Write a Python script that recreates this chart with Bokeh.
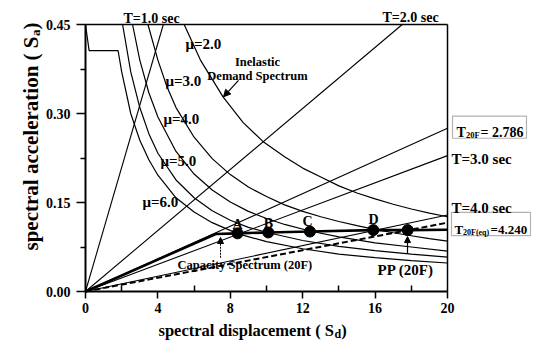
import math
from bokeh.plotting import figure
from bokeh.models import (Label, Arrow, NormalHead, Range1d, FixedTicker,
                          NumeralTickFormatter, BoxAnnotation)
from bokeh.embed import file_html
from bokeh.resources import INLINE

# ---------------- data ----------------
# radial period lines: end point where each meets the frame
period_labels = ["T=1.0 sec", "T=2.0 sec", "T_20F", "T=3.0 sec", "T=4.0 sec"]
period_end_sd = [4.3, 17.5, 20.0, 20.0, 20.0]
period_end_sa = [0.45, 0.45, 0.275, 0.229, 0.129]
teq_end_sd = 20.0
teq_end_sa = 0.116

mu2_sd = [5.45, 6.35, 7.6, 8.7, 9.8, 11, 12, 13, 14, 15, 16, 17, 18, 19, 20]
mu2_sa = [0.45, 0.39, 0.328, 0.285, 0.253, 0.227, 0.208, 0.193, 0.178, 0.166, 0.156, 0.147, 0.139, 0.132, 0.126]

mu3_sd = [3.45, 4.0, 4.5, 5, 6, 7, 8, 9, 10, 11, 12, 13, 14, 15, 15.9, 17, 18, 19, 20]
mu3_sa = [0.45, 0.39, 0.345, 0.31, 0.26, 0.224, 0.197, 0.176, 0.160, 0.146, 0.135, 0.126, 0.118, 0.111, 0.105, 0.099, 0.094, 0.089, 0.085]

mu4_sd = [2.6, 3, 3.5, 4, 5, 6, 7, 8, 9, 10, 11, 12.4, 14, 16, 18, 20]
mu4_sa = [0.45, 0.39, 0.335, 0.294, 0.236, 0.198, 0.171, 0.151, 0.135, 0.123, 0.113, 0.102, 0.092, 0.082, 0.075, 0.068]

mu5_sd = [2.05, 2.5, 3, 3.5, 4, 5, 6, 7, 8, 9, 10.1, 12, 14, 16, 18, 20]
mu5_sa = [0.45, 0.37, 0.31, 0.266, 0.233, 0.188, 0.158, 0.136, 0.12, 0.108, 0.099, 0.086, 0.076, 0.069, 0.063, 0.058]

mu6_sd = [0, 0.2, 1.8, 2.0, 2.5, 3, 3.5, 4, 5, 6, 7, 8.4, 10, 12, 14, 16, 18, 20]
mu6_sa = [0.45, 0.406, 0.406, 0.37, 0.30, 0.255, 0.222, 0.196, 0.158, 0.134, 0.116, 0.0975, 0.084, 0.072, 0.063, 0.057, 0.052, 0.048]

mu_labels = ["\u03bc=2.0", "\u03bc=3.0", "\u03bc=4.0", "\u03bc=5.0", "\u03bc=6.0"]

capacity_sd = [0, 7.2, 8.4, 10.1, 12.4, 15.9, 17.8, 20]
capacity_sa = [0, 0.097, 0.098, 0.0995, 0.101, 0.1035, 0.1035, 0.104]

point_names = ["A", "B", "C", "D", "PP"]
point_sd = [8.4, 10.1, 12.4, 15.9, 17.8]
point_sa = [0.098, 0.0995, 0.101, 0.1035, 0.1035]

x_ticks = [0, 4, 8, 12, 16, 20]
x_minor = [2, 6, 10, 14, 18]
y_ticks = [0.0, 0.15, 0.30, 0.45]
y_minor = [0.075, 0.225, 0.375]

# ---------------- layout ----------------
FONT = "Liberation Serif"
W, H = 532, 342
XMAX, YMAX = 20.0, 0.45
# plot area in canvas pixels
FL, FR, FT, FB = 85, 447, 24, 291
XS = (FR - FL) / XMAX
YS = (FB - FT) / YMAX
# reference-picture plot area (used to convert read label positions)
RL, RR, RT, RB = 85, 447, 25, 302

def dx(px):
    return (px - RL) * XMAX / (RR - RL)

def dy(py):
    return (RB - py) * YMAX / (RB - RT)

def cy(py):
    # canvas pixel row -> data
    return (FB - py) / YS

TB = {'s': .389, 'p': .556, 'e': .444, 'c': .444, 't': .333, 'r': .444, 'a': .5,
      'l': .278, ' ': .25, 'd': .556, 'i': .278, 'm': .833, 'n': .556, '(': .333,
      ')': .333, 'S': .556, 'o': .5, 'T': .667, '=': .570, '.': .25, 'F': .611,
      'q': .556, 'P': .611}

def tw(s, size):
    return sum(TB.get(ch, .5) for ch in s) * size

p = figure(frame_width=W, frame_height=H,
           min_border_left=0, min_border_right=0, min_border_top=0, min_border_bottom=0,
           x_range=Range1d(-FL / XS, (W - FL) / XS),
           y_range=Range1d((FB - H) / YS, FB / YS),
           output_backend="svg", toolbar_location=None)
p.xgrid.visible = False
p.ygrid.visible = False
p.outline_line_color = None
p.background_fill_color = "white"
p.border_fill_color = "white"

p.xaxis.fixed_location = 0
p.yaxis.fixed_location = 0
p.xaxis.bounds = (0, XMAX)
p.yaxis.bounds = (0, YMAX)
p.xaxis.ticker = FixedTicker(ticks=x_ticks, minor_ticks=x_minor)
p.yaxis.ticker = FixedTicker(ticks=y_ticks, minor_ticks=y_minor)
p.yaxis.formatter = NumeralTickFormatter(format="0.00")
for ax in (p.xaxis, p.yaxis):
    ax.axis_line_width = 2
    ax.major_tick_line_width = 1.5
    ax.minor_tick_line_width = 1.5
    ax.major_label_text_font = FONT
    ax.major_label_text_font_style = "bold"
    ax.major_label_text_font_size = "14px"
    ax.major_label_text_color = "black"
    ax.axis_line_color = "black"
    ax.major_tick_line_color = "black"
    ax.minor_tick_line_color = "black"
p.xaxis.major_tick_out = 7
p.xaxis.major_tick_in = 0
p.xaxis.minor_tick_in = 6
p.xaxis.minor_tick_out = 0
p.xaxis.major_label_standoff = 4
p.yaxis.major_tick_out = 9
p.yaxis.major_tick_in = 0
p.yaxis.minor_tick_out = 5
p.yaxis.minor_tick_in = 0
p.yaxis.major_label_standoff = 6

# top and right borders of the plot box
p.line([0, XMAX], [YMAX, YMAX], line_color="black", line_width=1.5)
p.line([XMAX, XMAX], [0, YMAX], line_color="black", line_width=1.5)

# period lines
for sd, sa in zip(period_end_sd, period_end_sa):
    p.line([0, sd], [0, sa], line_color="black", line_width=1.1)
p.line([0, teq_end_sd], [0, teq_end_sa], line_color="black", line_width=2,
       line_dash="6 3")

# demand curves
for xs, ys in [(mu2_sd, mu2_sa), (mu3_sd, mu3_sa), (mu4_sd, mu4_sa),
               (mu5_sd, mu5_sa), (mu6_sd, mu6_sa)]:
    p.line(xs, ys, line_color="black", line_width=1.2)

# capacity spectrum
p.line(capacity_sd, capacity_sa, line_color="black", line_width=2.6)
p.scatter(point_sd, point_sa, size=11, color="black")

def lab(text, px, py, size, align="left", baseline="alphabetic", angle=0):
    p.add_layout(Label(x=dx(px), y=dy(py), text=text, text_font=FONT,
                       text_font_size=f"{size}px", text_font_style="bold",
                       text_align=align, text_baseline=baseline, angle=angle,
                       text_color="black"))

# top labels
lab(period_labels[0], 151, 19, 14, align="center")
lab(period_labels[1], 410, 18, 14, align="center")
# right labels
lab(period_labels[3], 451, 165, 15)
lab(period_labels[4], 451, 215, 15)

# T_20F box
p.add_layout(BoxAnnotation(left=dx(452), right=dx(526), top=dy(120), bottom=dy(143),
                           fill_alpha=0, line_color="black", line_width=1.2))
lab("T", 456, 137, 14)
lab("20F", 465.5, 140, 8.5)
lab("= 2.786", 480, 137, 14)

# T_20F(eq) box
p.add_layout(BoxAnnotation(left=dx(451), right=dx(530), top=dy(220), bottom=dy(244),
                           fill_alpha=0, line_color="black", line_width=1.2))
lab("T", 454, 238, 13)
lab("20F(eq)", 462.5, 241, 8)
lab("=4.240", 490, 238, 13)

# mu labels
mu_pos = [(185, 45), (165, 84), (163, 123), (160, 167), (142, 209)]
for t, (x, y) in zip(mu_labels, mu_pos):
    lab(t, x, y, 15)

lab("Inelastic", 257, 64, 12.5, align="center")
lab("Demand Spectrum", 257, 78, 12.5, align="center")
p.add_layout(Arrow(end=NormalHead(size=7, fill_color="black", line_color="black"),
                   x_start=dx(238), y_start=dy(83), x_end=dx(223), y_end=dy(100),
                   line_color="black", line_width=1.2))

# point labels
pt_lab_pos = [(237, 233), (268, 231), (307, 229), (373, 227)]
for t, (x, y) in zip(point_names[:4], pt_lab_pos):
    lab(t, x, y, 14, align="center")

lab("Capacity Spectrum (20F)", 177, 275, 12.5)
p.add_layout(Arrow(end=NormalHead(size=6, fill_color="black", line_color="black"),
                   x_start=dx(220), y_start=dy(267), x_end=dx(220), y_end=dy(246),
                   line_color="black", line_width=1, line_dash="2 1"))
lab("PP (20F)", 377, 280, 15)
p.add_layout(Arrow(end=NormalHead(size=6, fill_color="black", line_color="black"),
                   x_start=dx(407), y_start=dy(263), x_end=dx(407), y_end=dy(245),
                   line_color="black", line_width=1.2))

# axis titles with subscripts (positions in canvas pixels)
def clab(text, px, py, size, angle=0):
    p.add_layout(Label(x=dx(px), y=cy(py), text=text, text_font=FONT,
                       text_font_size=f"{size}px", text_font_style="bold",
                       text_align="left", text_baseline="alphabetic", angle=angle,
                       text_color="black"))

xs0 = 158
xbase = 330
main = "spectral displacement ( S"
clab(main, xs0, xbase, 16.5)
x1 = xs0 + tw(main, 16.5)
clab("d", x1 + 0.5, xbase + 3.5, 12)
x2 = x1 + 0.5 + tw("d", 12)
clab(" )", x2, xbase, 16.5)

ybase_x = 30
y_start = 250
ymain = "spectral acceleration ( S"
clab(ymain, ybase_x, y_start, 21, angle=math.pi / 2)
y1 = y_start - tw(ymain, 21)
clab("a", ybase_x + 4.5, y1 - 0.5, 13, angle=math.pi / 2)
y2 = y1 - 0.5 - tw("a", 13)
clab(" )", ybase_x, y2, 21, angle=math.pi / 2)

open("out.html", "w").write(file_html(p, INLINE))
